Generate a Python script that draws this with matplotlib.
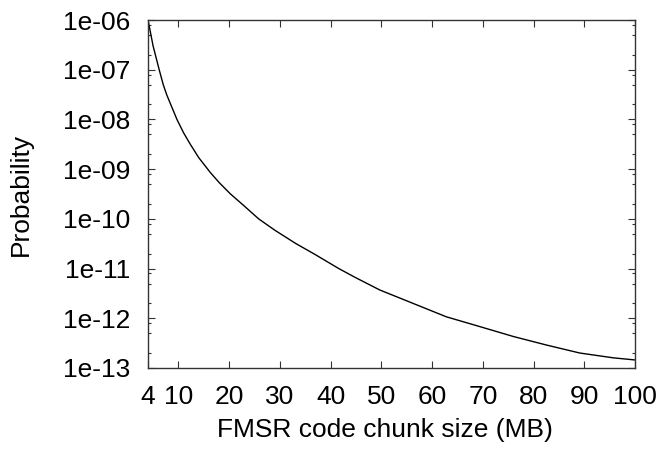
import matplotlib
matplotlib.use('Agg')
import matplotlib.pyplot as plt
from matplotlib.ticker import LogLocator, FixedLocator, NullFormatter

plt.rcParams['font.family'] = ['Liberation Sans', 'DejaVu Sans']

# values
chunk_mb = [4, 5, 6.2, 7, 7.7, 9.7, 11, 12.3, 14, 16.3, 18, 20.2, 23, 25.8,
            29, 33.1, 37, 41.6, 45, 49.7, 56.2, 62.8, 69.4, 76, 82.5, 89.1,
            95.7, 100]
prob = [1.0e-6, 3.0e-7, 1.0e-7, 5.0e-8, 3.1e-8, 1.0e-8, 5.4e-9, 3.2e-9,
        1.7e-9, 8.5e-10, 5.4e-10, 3.2e-10, 1.8e-10, 1.0e-10, 5.9e-11,
        3.2e-11, 1.9e-11, 1.0e-11, 6.5e-12, 3.7e-12, 2.0e-12, 1.07e-12,
        6.8e-13, 4.3e-13, 2.9e-13, 2.0e-13, 1.6e-13, 1.45e-13]

xticks = [4, 10, 20, 30, 40, 50, 60, 70, 80, 90, 100]
ylabels = ['1e-13', '1e-12', '1e-11', '1e-10', '1e-09', '1e-08', '1e-07', '1e-06']
yticks = [1e-13, 1e-12, 1e-11, 1e-10, 1e-9, 1e-8, 1e-7, 1e-6]

fig = plt.figure(figsize=(6.65, 4.62), dpi=100)
ax = fig.add_axes([0.2226, 0.2035, 0.7324, 0.7532])

ax.plot(chunk_mb, prob, color='black', lw=1.0)

ax.set_yscale('log')
ax.set_xlim(4, 100)
ax.set_ylim(1e-13, 1e-6)

ax.set_xticks(xticks)
ax.set_xticklabels([str(t) for t in xticks])
ax.set_yticks(yticks)
ax.set_yticklabels(ylabels)
ax.yaxis.set_minor_locator(LogLocator(base=10, subs=(2.0, 5.0, 8.0), numticks=30))
ax.yaxis.set_minor_formatter(NullFormatter())
ax.xaxis.set_minor_locator(FixedLocator([]))

ax.tick_params(which='major', direction='in', length=5, width=0.8,
               top=True, right=True, labelsize=19, colors='#333333',
               labelcolor='black')
ax.tick_params(axis='y', which='major', pad=13)
ax.tick_params(axis='x', which='major', pad=12)
ax.tick_params(which='minor', direction='in', length=2.5, width=0.8,
               left=True, right=True, colors='#333333')

for s in ax.spines.values():
    s.set_linewidth(1.0)
    s.set_color('#333333')

ax.set_xlabel('FMSR code chunk size (MB)', fontsize=19)
ax.set_ylabel('Probability', fontsize=19)
ax.xaxis.set_label_coords(0.487, -0.145)
ax.yaxis.set_label_coords(-0.236, 0.5)

fig.savefig('out.png', dpi=100)
